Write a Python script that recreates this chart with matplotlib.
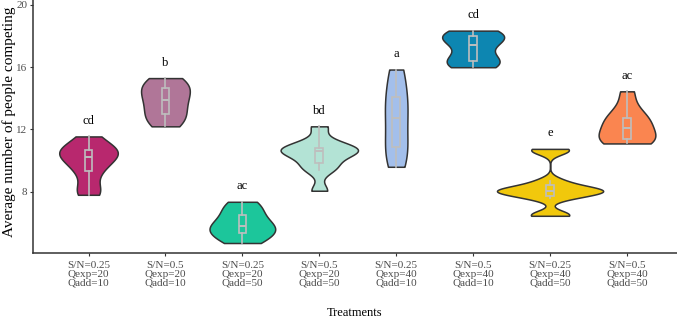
import numpy as np
import matplotlib.pyplot as plt

# Tratamentos (eixo x) e letras de significância
treatments = [
    "S/N=0.25\nQexp=20\nQadd=10",
    "S/N=0.5\nQexp=20\nQadd=10",
    "S/N=0.25\nQexp=20\nQadd=50",
    "S/N=0.5\nQexp=20\nQadd=50",
    "S/N=0.25\nQexp=40\nQadd=10",
    "S/N=0.5\nQexp=40\nQadd=10",
    "S/N=0.25\nQexp=40\nQadd=50",
    "S/N=0.5\nQexp=40\nQadd=50",
]
letters = ["cd", "b", "ac", "bd", "a", "cd", "e", "ac"]
colors = ["#B8286E", "#B07698", "#1CC69B", "#B3E3D5",
          "#A3BFEB", "#0D86B1", "#F1C80C", "#FA8550"]

# Valores médios por grupo
g1 = [7.8, 8.2, 9.2, 9.7, 10.1, 10.35, 10.6, 10.7, 10.9, 11.55]
g2 = [12.2, 12.6, 12.9, 13.3, 13.8, 14.0, 14.5, 14.7, 15.0, 15.3]
g3 = [4.7, 5.0, 5.3, 5.5, 5.7, 5.9, 6.2, 6.6, 7.0, 7.35]
g4 = [8.06, 9.4, 9.7, 10.2, 10.55, 10.65, 10.7, 10.85, 11.2, 12.2]
g5 = [9.6, 9.95, 10.7, 11.0, 11.9, 12.75, 13.3, 13.9, 14.3, 15.6, 15.85]
g6 = [16.0, 16.1, 16.3, 16.5, 16.8, 17.45, 17.7, 17.9, 18.05, 18.2, 18.35]
g7 = [6.45, 6.55, 7.6, 7.8, 7.95, 8.05, 8.1, 8.15, 8.35, 8.7, 10.6, 10.75]
g8 = [11.1, 11.15, 11.3, 11.6, 11.9, 12.3, 12.6, 12.8, 13.4, 14.45]
groups = [g1, g2, g3, g4, g5, g6, g7, g8]

MAX_HALF = 0.69   # meia largura do violino mais largo
BOX_W = 0.1


def nrd0(x):
    # regra de Silverman (como no R)
    sd = np.std(x, ddof=1)
    q75, q25 = np.percentile(x, [75, 25])
    return 0.9 * min(sd, (q75 - q25) / 1.34) * len(x) ** -0.2


def kde(x, grid):
    bw = nrd0(x)
    z = (grid[:, None] - x[None, :]) / bw
    return np.exp(-0.5 * z ** 2).sum(axis=1) / (len(x) * bw * np.sqrt(2 * np.pi))


plt.rcParams['font.family'] = ['Liberation Serif', 'DejaVu Serif']

fig = plt.figure(figsize=(6.77, 3.19), dpi=100)
ax = fig.add_axes([0.0487, 0.207, 0.9513, 0.793])

# densidades (escala "area": todas com a mesma área)
grids, dens = [], []
for g in groups:
    x = np.array(g)
    grid = np.linspace(x.min(), x.max(), 512)
    grids.append(grid)
    dens.append(kde(x, grid))
scale = MAX_HALF / max(d.max() for d in dens)

positions = np.arange(1, len(groups) + 1)
for pos, grid, d, col in zip(positions, grids, dens, colors):
    w = d * scale
    ax.fill_betweenx(grid, pos - w, pos + w, facecolor=col,
                     edgecolor="#333333", linewidth=1.1, zorder=2)

grey = "#BEBEBE"
ax.boxplot(groups, positions=positions, widths=BOX_W, whis=1.5,
           showfliers=False, showcaps=False, patch_artist=True,
           boxprops=dict(facecolor="none", edgecolor=grey, linewidth=1.2),
           whiskerprops=dict(color=grey, linewidth=1.2),
           medianprops=dict(color=grey, linewidth=1.4),
           zorder=3)

for pos, g, lab in zip(positions, groups, letters):
    ax.text(pos, max(g) + 1.0, lab, ha="center", va="center",
            fontsize=9, color="black")

ax.set_xlim(0.278, 8.65)
ax.set_ylim(4.06, 20.32)
ax.set_xticks(positions)
ax.set_xticklabels(treatments, fontsize=8, color="#4D4D4D", linespacing=1.0)
ax.set_yticks([8, 12, 16, 20])
ax.tick_params(axis="y", labelsize=8, labelcolor="#4D4D4D", length=2.5,
               width=0.8, color="#333333", pad=1.5)
ax.tick_params(axis="x", length=2.5, width=0.8, color="#333333", pad=3)

for s in ["top", "right"]:
    ax.spines[s].set_visible(False)
for s in ["left", "bottom"]:
    ax.spines[s].set_color("#333333")
    ax.spines[s].set_linewidth(1.1)

ax.set_ylabel("Average number of people competing", fontsize=11)
ax.yaxis.set_label_coords(-0.027, 0.52)
ax.set_xlabel("Treatments", fontsize=9)
ax.xaxis.set_label_coords(0.5, -0.215)

fig.savefig("out.png", dpi=100)
